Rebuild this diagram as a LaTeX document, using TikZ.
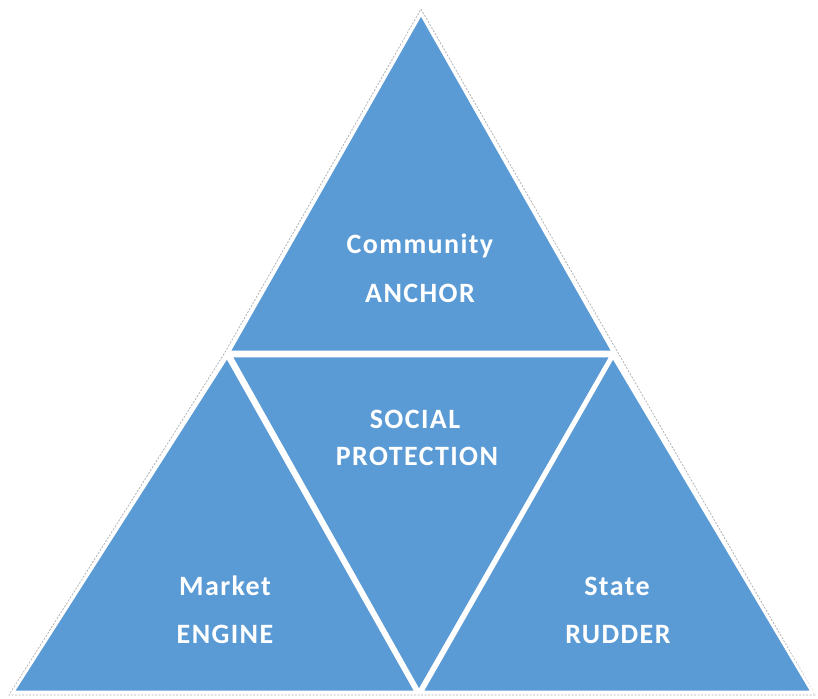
\documentclass[tikz,border=0pt]{standalone}
\usepackage{fontspec}
\setmainfont{Carlito}[LetterSpace=5]
\definecolor{tblue}{HTML}{5B9BD5}
\begin{document}
\begin{tikzpicture}[x=1pt,y=-1pt,
  tri/.style={fill=tblue,draw=white,line width=2.6pt,line join=miter},
  halo/.style={draw=black!30,line width=0.8pt,dash pattern=on 2pt off 1.5pt},
  lbl/.style={text=white,font=\fontsize{28}{30}\selectfont\bfseries,anchor=base,inner sep=0pt}]
\useasboundingbox (0,0) rectangle (818,698);
% outer halo
\draw[halo] (421,9) -- (617,351) -- (815,695) -- (9,695) -- (224,354) -- cycle;
% triangles
\draw[tri] (421,14) -- (613,352) -- (229,352) -- cycle;
\draw[tri] (231,356) -- (611,356) -- (419,691) -- cycle;
\draw[tri] (227,357) -- (416,692) -- (13,692) -- cycle;
\draw[tri] (613,357) -- (812,692) -- (422,692) -- cycle;
% labels
\node[lbl] (c1) at (420,253) {Community};
\node[lbl] (c2) at (420,302) {ANCHOR};
\node[lbl] (s1) at (415,428) {SOCIAL};
\node[lbl] (s2) at (417,465) {PROTECTION};
\node[lbl] (m1) at (225,595) {Market};
\node[lbl] (m2) at (225,643) {ENGINE};
\node[lbl] (r1) at (617,595) {State};
\node[lbl] (r2) at (618,643) {RUDDER};
\end{tikzpicture}
\end{document}
